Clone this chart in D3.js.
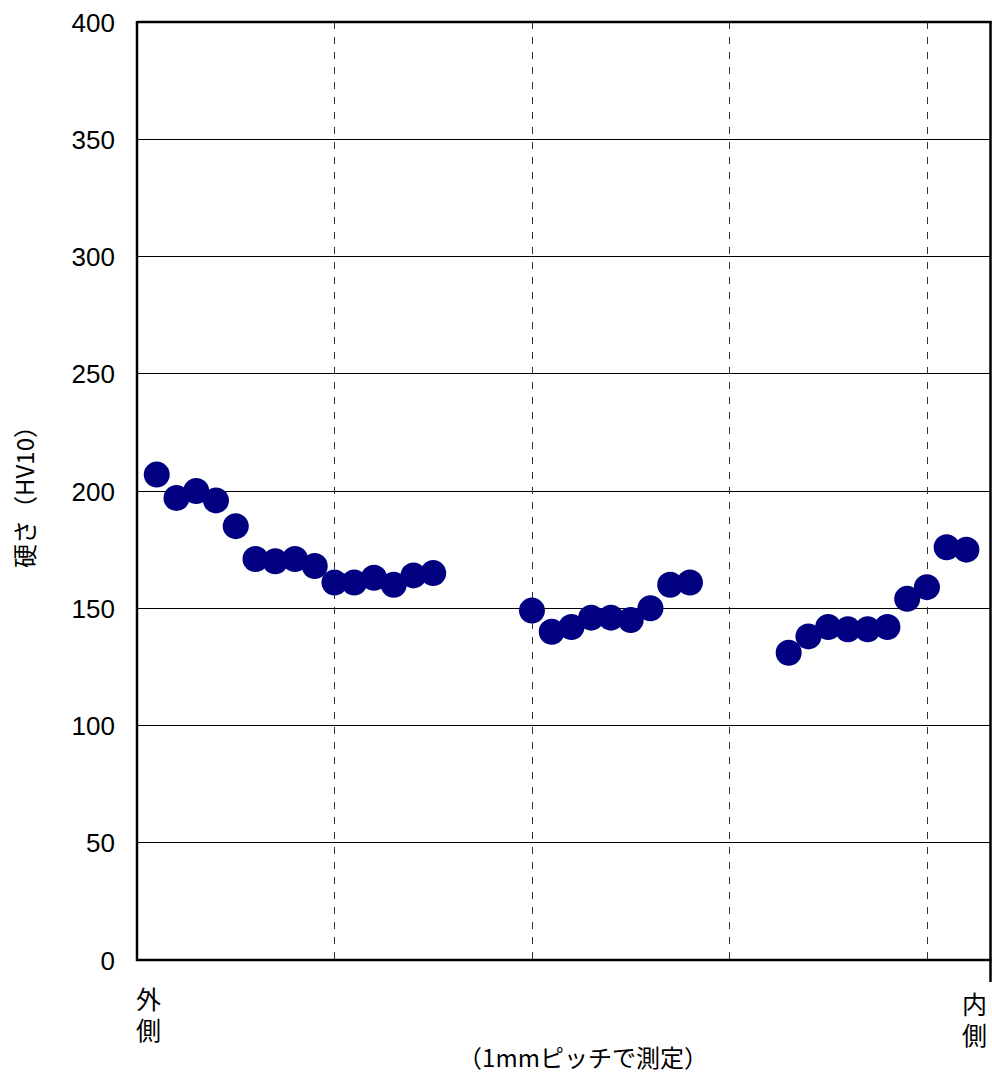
<!DOCTYPE html>
<html><head><meta charset="utf-8">
<script src="https://cdn.jsdelivr.net/npm/d3@7"></script>
<style>body{margin:0;background:#fff}svg{display:block}</style>
</head><body>
<script>
// Data: measurement position (1mm pitch index) and hardness HV10
const positions = [1,2,3,4,5,6,7,8,9,10,11,12,13,14,15,
                   20,21,22,23,24,25,26,27,28,
                   33,34,35,36,37,38,39,40,41,42];
const hardness  = [207,197,200,196,185,171,170,171,168,161,161,163,160,164,165,
                   149,140,142,146,146,145,150,160,161,
                   131,138,142,141,141,142,154,159,176,175];
const yTicks = [0,50,100,150,200,250,300,350,400];
const xDividers = [10,20,30,40];
const yTitle = "硬さ（HV10）";
const xTitle = "（1mmピッチで測定）";
const leftLabel = "外側";
const rightLabel = "内側";

const W = 992, H = 1075;
const L = 137, R = 990.5, T = 22, B = 960;
const svg = d3.select("body").append("svg").attr("width", W).attr("height", H);
const x = d3.scaleLinear().domain([0, 43.22]).range([L, R]);
const y = d3.scaleLinear().domain([0, 400]).range([B, T]);

// horizontal grid
svg.append("g").selectAll("line").data(yTicks.filter(d => d > 0 && d < 400)).join("line")
  .attr("x1", L).attr("x2", R).attr("y1", d => y(d)).attr("y2", d => y(d))
  .attr("stroke", "#000").attr("stroke-width", 1).attr("shape-rendering", "crispEdges");

// vertical dashed dividers
svg.append("g").selectAll("line").data(xDividers).join("line")
  .attr("x1", d => Math.round(x(d)) + 0.5).attr("x2", d => Math.round(x(d)) + 0.5)
  .attr("y1", T).attr("y2", B)
  .attr("stroke", "#333").attr("stroke-width", 1).attr("stroke-dasharray", "7,8");

// y axis via d3 axis (labels only)
const yAxis = d3.axisLeft(y).tickValues(yTicks).tickSize(0).tickPadding(22);
const gy = svg.append("g").attr("transform", `translate(${L},0)`).call(yAxis);
gy.select(".domain").remove();
gy.selectAll("text").attr("font-family", "'Liberation Sans', Arial, sans-serif")
  .attr("font-size", 26).attr("fill", "#000").attr("dy", "0.35em");

// frame
svg.append("line").attr("x1", L).attr("x2", L).attr("y1", T - 1).attr("y2", B + 1)
  .attr("stroke", "#000").attr("stroke-width", 2.5);
svg.append("line").attr("x1", L).attr("x2", R + 1).attr("y1", T).attr("y2", T)
  .attr("stroke", "#000").attr("stroke-width", 2.5);
svg.append("line").attr("x1", L - 1).attr("x2", R + 1).attr("y1", B).attr("y2", B)
  .attr("stroke", "#000").attr("stroke-width", 2.7);
svg.append("line").attr("x1", R).attr("x2", R).attr("y1", T - 1).attr("y2", 982)
  .attr("stroke", "#000").attr("stroke-width", 2.5);

// points
svg.append("g").selectAll("circle").data(positions.map((p, i) => [p, hardness[i]])).join("circle")
  .attr("cx", d => x(d[0])).attr("cy", d => y(d[1])).attr("r", 13)
  .attr("fill", "#000080");

// labels
const jp = "'Noto Sans CJK JP', sans-serif";
function vlabel(txt, cx, top) {
  svg.append("text").attr("font-family", jp).attr("font-size", 25).attr("fill", "#000")
    .style("writing-mode", "vertical-rl").style("letter-spacing", "6px")
    .attr("x", cx).attr("y", top).text(txt);
}
vlabel(leftLabel, 148.5, 987);
vlabel(rightLabel, 974.5, 992);
svg.append("text").attr("font-family", jp).attr("font-size", 24).attr("fill", "#000")
  .attr("text-anchor", "middle").attr("x", 583).attr("y", 1067).text(xTitle);
svg.append("text").attr("font-family", jp).attr("font-size", 24).attr("fill", "#000")
  .attr("text-anchor", "middle")
  .attr("transform", "translate(34,491) rotate(-90)").text(yTitle);
</script>
</body></html>
